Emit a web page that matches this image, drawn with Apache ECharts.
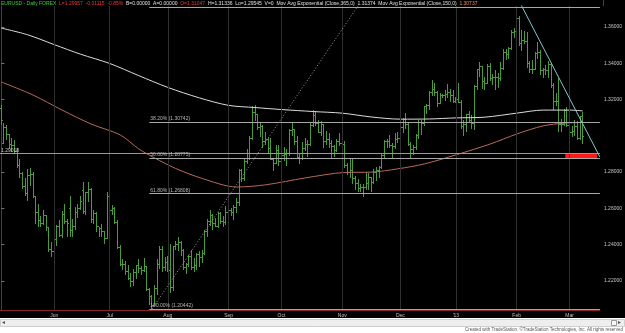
<!DOCTYPE html>
<html><head><meta charset="utf-8">
<script src="https://cdn.jsdelivr.net/npm/echarts@6/dist/echarts.min.js"></script>
<style>html,body{margin:0;padding:0;background:#000;}#c{width:625px;height:333px;}</style>
</head><body><div id="c"></div>
<script>
// ---- data ----
// one bar per weekday, index 0 = 4 May 2012 ... index 220 = 8 Mar 2013 ; [open, high, low, close]
const bars = [
[1.3150,1.3172,1.3060,1.3085],[1.2960,1.3070,1.2955,1.3045],[1.3045,1.3060,1.2975,1.3005],[1.3005,1.3010,1.2925,1.2950],
[1.2950,1.2990,1.2910,1.2945],[1.2945,1.2975,1.2900,1.2915],[1.2915,1.2935,1.2820,1.2835],[1.2835,1.2875,1.2765,1.2790],
[1.2790,1.2800,1.2705,1.2720],[1.2720,1.2770,1.2670,1.2680],[1.2680,1.2815,1.2640,1.2780],[1.2780,1.2825,1.2725,1.2785],
[1.2785,1.2800,1.2655,1.2665],[1.2665,1.2670,1.2515,1.2580],[1.2580,1.2625,1.2500,1.2535],[1.2535,1.2560,1.2495,1.2515],
[1.2515,1.2590,1.2510,1.2560],[1.2560,1.2565,1.2475,1.2495],[1.2495,1.2500,1.2360,1.2375],[1.2375,1.2415,1.2330,1.2365],
[1.2365,1.2440,1.2288,1.2430],[1.2430,1.2510,1.2395,1.2500],[1.2500,1.2535,1.2440,1.2450],[1.2450,1.2585,1.2435,1.2565],
[1.2565,1.2625,1.2515,1.2530],[1.2530,1.2540,1.2440,1.2515],[1.2600,1.2670,1.2440,1.2480],[1.2480,1.2540,1.2445,1.2500],
[1.2500,1.2605,1.2480,1.2580],[1.2580,1.2625,1.2545,1.2600],[1.2600,1.2670,1.2590,1.2640],[1.2700,1.2747,1.2570,1.2585],
[1.2585,1.2690,1.2565,1.2685],[1.2685,1.2745,1.2635,1.2705],[1.2705,1.2715,1.2520,1.2540],[1.2540,1.2590,1.2515,1.2570],
[1.2570,1.2580,1.2470,1.2500],[1.2500,1.2500,1.2440,1.2490],[1.2490,1.2515,1.2440,1.2470],[1.2470,1.2475,1.2405,1.2435],
[1.2435,1.2692,1.2430,1.2665],
[1.2665,1.2690,1.2580,1.2590],[1.2590,1.2620,1.2565,1.2600],[1.2600,1.2605,1.2515,1.2525],[1.2525,1.2535,1.2375,1.2385],
[1.2385,1.2400,1.2280,1.2290],[1.2290,1.2320,1.2260,1.2290],[1.2290,1.2310,1.2235,1.2250],[1.2250,1.2290,1.2205,1.2215],
[1.2215,1.2245,1.2165,1.2195],[1.2195,1.2265,1.2170,1.2245],[1.2245,1.2290,1.2210,1.2285],[1.2285,1.2320,1.2245,1.2270],
[1.2270,1.2285,1.2235,1.2260],[1.2260,1.2325,1.2250,1.2280],[1.2280,1.2285,1.2145,1.2155],[1.2155,1.2160,1.2067,1.2115],
[1.2115,1.2125,1.2042,1.2065],[1.2065,1.2175,1.2060,1.2160],[1.2160,1.2320,1.2125,1.2290],[1.2290,1.2390,1.2265,1.2375],
[1.2375,1.2390,1.2250,1.2275],[1.2275,1.2330,1.2255,1.2300],
[1.2300,1.2340,1.2250,1.2260],[1.2260,1.2405,1.2135,1.2165],[1.2165,1.2395,1.2145,1.2390],[1.2390,1.2420,1.2370,1.2400],
[1.2400,1.2445,1.2365,1.2410],[1.2410,1.2420,1.2340,1.2370],[1.2370,1.2375,1.2260,1.2275],[1.2275,1.2300,1.2240,1.2290],
[1.2290,1.2345,1.2275,1.2335],[1.2335,1.2370,1.2260,1.2275],[1.2275,1.2325,1.2250,1.2285],[1.2285,1.2355,1.2260,1.2345],
[1.2345,1.2365,1.2275,1.2330],[1.2330,1.2370,1.2300,1.2350],[1.2350,1.2480,1.2345,1.2470],[1.2470,1.2540,1.2440,1.2530],
[1.2530,1.2590,1.2505,1.2560],[1.2560,1.2570,1.2480,1.2515],[1.2515,1.2545,1.2495,1.2500],[1.2500,1.2580,1.2490,1.2570],
[1.2570,1.2580,1.2515,1.2530],[1.2530,1.2560,1.2495,1.2520],[1.2520,1.2615,1.2510,1.2580],
[1.2580,1.2625,1.2570,1.2590],[1.2590,1.2600,1.2560,1.2575],[1.2575,1.2620,1.2535,1.2605],[1.2605,1.2660,1.2575,1.2630],
[1.2630,1.2815,1.2615,1.2810],[1.2810,1.2815,1.2745,1.2765],[1.2765,1.2870,1.2750,1.2860],[1.2860,1.2930,1.2845,1.2905],
[1.2905,1.3000,1.2865,1.2985],[1.2985,1.3165,1.2975,1.3130],[1.3130,1.3172,1.3080,1.3115],[1.3115,1.3120,1.3030,1.3045],
[1.3045,1.3075,1.2995,1.3050],[1.3050,1.3060,1.2935,1.2970],[1.2970,1.3020,1.2950,1.2980],[1.2980,1.2990,1.2900,1.2930],
[1.2930,1.2990,1.2865,1.2870],[1.2870,1.2880,1.2805,1.2850],[1.2850,1.2950,1.2845,1.2920],[1.2920,1.2950,1.2835,1.2860],
[1.2860,1.2935,1.2855,1.2890],[1.2890,1.2940,1.2860,1.2895],[1.2895,1.2925,1.2835,1.2900],[1.2900,1.3040,1.2890,1.3030],
[1.3030,1.3075,1.3000,1.3035],[1.3035,1.3040,1.2950,1.2970],[1.2970,1.3000,1.2875,1.2880],[1.2880,1.2905,1.2845,1.2875],
[1.2875,1.2965,1.2865,1.2930],[1.2930,1.2990,1.2915,1.2950],[1.2950,1.2975,1.2885,1.2955],[1.2955,1.3075,1.2945,1.3055],
[1.3055,1.3140,1.3050,1.3110],[1.3110,1.3135,1.3055,1.3070],[1.3070,1.3085,1.3015,1.3020],[1.3020,1.3080,1.3000,1.3060],
[1.3060,1.3065,1.2935,1.2970],[1.2970,1.3025,1.2950,1.2980],[1.2980,1.3015,1.2935,1.2960],[1.2960,1.2975,1.2880,1.2940],
[1.2940,1.2950,1.2885,1.2920],[1.2920,1.2985,1.2910,1.2970],[1.2970,1.3015,1.2945,1.2960],
[1.2960,1.2990,1.2925,1.2950],[1.2950,1.2970,1.2825,1.2835],[1.2835,1.2850,1.2785,1.2800],[1.2800,1.2875,1.2770,1.2810],
[1.2810,1.2880,1.2735,1.2765],[1.2765,1.2780,1.2700,1.2740],[1.2740,1.2760,1.2690,1.2710],[1.2710,1.2735,1.2690,1.2715],
[1.2715,1.2735,1.2662,1.2715],[1.2715,1.2800,1.2700,1.2740],[1.2740,1.2795,1.2700,1.2770],[1.2770,1.2775,1.2690,1.2745],
[1.2745,1.2815,1.2735,1.2800],[1.2800,1.2830,1.2750,1.2810],[1.2810,1.2835,1.2765,1.2825],[1.2825,1.2905,1.2815,1.2890],
[1.2890,1.2975,1.2880,1.2970],[1.2970,1.2985,1.2935,1.2970],[1.2970,1.3005,1.2935,1.2945],[1.2945,1.2960,1.2875,1.2940],
[1.2940,1.3015,1.2930,1.2980],[1.2980,1.3020,1.2960,1.2985],
[1.2985,1.3055,1.2975,1.3045],[1.3045,1.3100,1.3015,1.3090],[1.3090,1.3125,1.3040,1.3065],[1.3065,1.3075,1.2945,1.2950],
[1.2950,1.2965,1.2875,1.2925],[1.2925,1.2950,1.2895,1.2935],[1.2935,1.3010,1.2920,1.3000],[1.3000,1.3085,1.2985,1.3075],
[1.3075,1.3085,1.3005,1.3070],[1.3070,1.3165,1.3055,1.3160],[1.3160,1.3175,1.3120,1.3165],[1.3165,1.3245,1.3140,1.3240],
[1.3240,1.3308,1.3220,1.3255],[1.3255,1.3290,1.3220,1.3240],[1.3240,1.3245,1.3160,1.3180],[1.3180,1.3235,1.3175,1.3220],
[1.3220,1.3230,1.3210,1.3220],[1.3220,1.3255,1.3190,1.3230],[1.3230,1.3285,1.3210,1.3240],[1.3240,1.3260,1.3185,1.3220],
[1.3220,1.3255,1.3180,1.3190],
[1.3190,1.3215,1.3180,1.3200],[1.3200,1.3292,1.3180,1.3185],[1.3185,1.3195,1.3035,1.3050],[1.3050,1.3085,1.2998,1.3065],
[1.3065,1.3120,1.3020,1.3115],[1.3115,1.3135,1.3070,1.3085],[1.3085,1.3115,1.3035,1.3070],[1.3070,1.3280,1.3030,1.3270],
[1.3270,1.3370,1.3255,1.3365],[1.3365,1.3405,1.3325,1.3385],[1.3385,1.3385,1.3260,1.3300],[1.3300,1.3325,1.3255,1.3290],
[1.3290,1.3395,1.3285,1.3385],[1.3385,1.3400,1.3300,1.3315],[1.3315,1.3340,1.3280,1.3320],[1.3320,1.3365,1.3255,1.3320],
[1.3320,1.3345,1.3265,1.3315],[1.3315,1.3405,1.3300,1.3370],[1.3370,1.3480,1.3365,1.3460],[1.3460,1.3480,1.3420,1.3450],
[1.3450,1.3490,1.3425,1.3480],[1.3480,1.3585,1.3475,1.3570],[1.3570,1.3595,1.3540,1.3575],
[1.3575,1.3711,1.3565,1.3645],[1.3645,1.3660,1.3495,1.3510],[1.3510,1.3585,1.3465,1.3525],[1.3525,1.3580,1.3505,1.3520],
[1.3520,1.3575,1.3375,1.3400],[1.3400,1.3415,1.3345,1.3365],[1.3365,1.3420,1.3340,1.3365],[1.3365,1.3460,1.3365,1.3455],
[1.3455,1.3520,1.3425,1.3460],[1.3460,1.3475,1.3335,1.3360],[1.3360,1.3375,1.3320,1.3365],[1.3365,1.3390,1.3335,1.3360],
[1.3360,1.3410,1.3320,1.3395],[1.3395,1.3395,1.3265,1.3280],[1.3280,1.3290,1.3145,1.3190],[1.3190,1.3235,1.3165,1.3190],
[1.3190,1.3320,1.3020,1.3065],[1.3065,1.3095,1.3020,1.3060],[1.3060,1.3150,1.3055,1.3140],[1.3140,1.3160,1.3050,1.3055],
[1.3055,1.3070,1.2966,1.3020],[1.3020,1.3055,1.2995,1.3025],[1.3025,1.3085,1.3000,1.3050],[1.3050,1.3080,1.2975,1.2985],
[1.2985,1.3110,1.2975,1.31072],[1.31047,1.31336,1.29545,1.29957]
];
const monthIdx    = [20, 41, 63, 86, 106, 129, 151, 172, 195, 215];
const monthLabels = ['Jun','Jul','Aug','Sep','Oct','Nov','Dec',"'13",'Feb','Mar'];
const yTickValues = [1.22, 1.24, 1.26, 1.28, 1.32, 1.34, 1.36];
// Mov Avg Exponential (Close,365,0) - white
const ema365 = [[0,1.3594],[10,1.3557],[20,1.3503],[30,1.3450],[41,1.3399],[52,1.3332],[63,1.3267],[75,1.3209],
  [86,1.3168],[96,1.3156],[106,1.3145],[118,1.3134],[129,1.3125],[140,1.3104],[151,1.3092],[162,1.3093],
  [172,1.3099],[183,1.3103],[195,1.3125],[205,1.3142],[215,1.3142],[220,1.31374]];
// Mov Avg Exponential (Close,150,0) - brown
const ema150 = [[0,1.3297],[12,1.3225],[23,1.3142],[34,1.3065],[45,1.3005],[52,1.2928],[58,1.2878],[66,1.2820],
  [76,1.2765],[89,1.2718],[100,1.2730],[115,1.2768],[130,1.2798],[140,1.2800],[150,1.2818],[160,1.2845],
  [172,1.2895],[185,1.2955],[195,1.3010],[205,1.3055],[213,1.3070],[220,1.30737]];
const fibPct = ['0.00%','38.20%','50.00%','61.80%','100.00%'];
const fibVal = [1.37108, 1.30742, 1.28775, 1.26808, 1.20442];
const fibStart = 56;
const hLinePrice = 1.29018;
const trendDotted = [[57,1.20442],[137,1.3760]];
const trendTeal = [[196,1.3741],[226.5,1.2883]];
const redZone = [[213.4,1.29018],[225.4,1.28775]];

// ---- drawing ----
const FONT = 'Arial, "Liberation Sans", sans-serif';
const BAR_COLOR = '#4c9a3c';
const AXIS_RED = '#8a2525';
const X_MIN = -0.5, X_MAX = 226.5;
const Y_MIN = 1.20399, Y_MAX = 1.37158;

const last = bars[bars.length-1], prev = bars[bars.length-2];
const chg = last[3]-prev[3];
const f5 = v => v.toFixed(5);
const headerText =
  '{g|EURUSD - Daily FOREX}  {r|L=' + f5(last[3]) + '  ' + f5(chg) + '  ' + (chg/prev[3]*100).toFixed(2) + '%}  ' +
  '{w|B=0.00000  A=0.00000}  {r|O=' + f5(last[0]) + '}  {w|H=' + f5(last[1]) + '  Lo=' + f5(last[2]) + '  V=0  ' +
  'Mov Avg Exponential (Close,365,0)  ' + f5(ema365[ema365.length-1][1]) + '  Mov Avg Exponential (Close,150,0)}  ' +
  '{o|' + f5(ema150[ema150.length-1][1]) + '}';

function boxLabel(val, bg, fg){
  return {yAxis: val, label:{show:true, position:'end', distance:1, formatter: f5(val),
    backgroundColor:bg, color:fg, fontSize:5, fontFamily:FONT, padding:[1,2,1,2], lineHeight:6}};
}

const fibLines = fibVal.map((v,k)=>[
  {coord:[fibStart, v], label:{show: k>0, position:'insideStartTop', distance:1,
     formatter: fibPct[k] + ' (' + f5(v) + ')', color:'#b8b8b8', fontSize:5, fontFamily:FONT}},
  {coord:[X_MAX, v]}
]);

const option = {
  backgroundColor:'#000',
  animation:false,
  grid:{left:0, right:22, top:6, bottom:23, containLabel:false},
  xAxis:{type:'value', min:X_MIN, max:X_MAX,
    axisLine:{show:true, onZero:false, lineStyle:{color:AXIS_RED, width:1}},
    axisTick:{show:false}, splitLine:{show:false},
    axisLabel:{color:'#c0c0c0', fontSize:5, fontFamily:FONT, margin:3, customValues:monthIdx,
      formatter: v => { const k = monthIdx.indexOf(Math.round(v)); return k>=0 ? monthLabels[k] : ''; }}},
  yAxis:{type:'value', position:'right', min:Y_MIN, max:Y_MAX,
    axisLine:{show:true, lineStyle:{color:AXIS_RED, width:1}},
    axisTick:{show:true, length:3, customValues:yTickValues, lineStyle:{color:'#777'}},
    splitLine:{show:false},
    axisLabel:{color:'#c8c8c8', fontSize:5, fontFamily:FONT, margin:4, customValues:yTickValues,
      formatter: v => v.toFixed(5)}},
  series:[
    { // month grid lines
      type:'line', z:1, silent:true, showSymbol:false, data:[[X_MIN-5, 1.3]],
      markLine:{silent:true, symbol:'none', label:{show:false},
        lineStyle:{color:'#303030', type:'solid', width:1},
        data: monthIdx.map(i=>({xAxis:i}))}
    },
    { // fib + horizontal line + red zone
      type:'line', z:3, silent:true, showSymbol:false, data:[[X_MIN-5, 1.3]],
      markLine:{silent:true, symbol:'none', lineStyle:{color:'#a8a8a8', type:'solid', width:1},
        data: fibLines.concat([[
          {coord:[X_MIN, hLinePrice], label:{show:true, position:'insideStartTop', distance:1,
            formatter:f5(hLinePrice), color:'#c8c8c8', fontSize:5, fontFamily:FONT}, lineStyle:{color:'#999'}},
          {coord:[X_MAX, hLinePrice]}
        ]])},
      markArea:{silent:true, itemStyle:{color:'#ff1a1a'},
        data:[[{coord:redZone[0]},{coord:redZone[1]}]]}
    },
    { // OHLC bars
      type:'custom', z:2, clip:true,
      data: bars.map((b,i)=>[i,b[0],b[1],b[2],b[3]]),
      encode:{x:0, y:[1,2,3,4]},
      renderItem:(params, api)=>{
        const i = api.value(0);
        const pO = api.coord([i, api.value(1)]), pH = api.coord([i, api.value(2)]);
        const pL = api.coord([i, api.value(3)]), pC = api.coord([i, api.value(4)]);
        const cx = Math.round(pH[0]-0.5);
        const st = {stroke:BAR_COLOR, lineWidth:1, fill:null};
        const yH = Math.round(pH[1]), yL = Math.round(pL[1]);
        const yO = Math.round(pO[1]-0.5)+0.5, yC = Math.round(pC[1]-0.5)+0.5;
        return {type:'group', children:[
          {type:'line', shape:{x1:cx+0.5, y1:yH, x2:cx+0.5, y2:Math.max(yL, yH+1)}, style:st},
          {type:'line', shape:{x1:cx-1, y1:yO, x2:cx, y2:yO}, style:st},
          {type:'line', shape:{x1:cx+1, y1:yC, x2:cx+2, y2:yC}, style:st}
        ]};
      }
    },
    { // last price box
      type:'line', z:6, silent:true, showSymbol:false, data:[[X_MIN-5, 1.3]],
      markLine:{silent:true, symbol:'none', lineStyle:{opacity:0},
        data:[boxLabel(last[3], '#22e022', '#000')]}
    },
    {
      type:'line', z:4, name:'ema365', data:ema365, showSymbol:false, smooth:0.3, silent:true,
      lineStyle:{color:'#dcdcdc', width:1},
      markLine:{silent:true, symbol:'none', lineStyle:{opacity:0},
        data:[boxLabel(ema365[ema365.length-1][1], '#ffffff', '#000')]}
    },
    {
      type:'line', z:4, name:'ema150', data:ema150, showSymbol:false, smooth:0.3, silent:true,
      lineStyle:{color:'#b86a58', width:1},
      markLine:{silent:true, symbol:'none', lineStyle:{opacity:0},
        data:[boxLabel(ema150[ema150.length-1][1], '#f2906a', '#000')]}
    },
    {
      type:'line', z:5, data:trendDotted, showSymbol:false, silent:true, clip:true,
      lineStyle:{color:'#9a9a9a', width:1, type:[1,2]}
    },
    {
      type:'line', z:5, data:trendTeal, showSymbol:false, silent:true, clip:true,
      lineStyle:{color:'#7cc8c8', width:1}
    }
  ],
  graphic:[
    {type:'text', left:1, top:1, z:10, style:{text:headerText, fontSize:5, fontFamily:FONT, fill:'#e0e0e0',
      rich:{g:{fill:'#3fcf3f', color:'#3fcf3f', fontSize:5, fontFamily:FONT},
            r:{fill:'#e23a3a', color:'#e23a3a', fontSize:5, fontFamily:FONT},
            w:{fill:'#e0e0e0', color:'#e0e0e0', fontSize:5, fontFamily:FONT},
            o:{fill:'#f08a60', color:'#f08a60', fontSize:5, fontFamily:FONT}}}},
    {type:'line', z:10, shape:{x1:603.5, y1:0, x2:603.5, y2:6}, style:{stroke:AXIS_RED, lineWidth:1}},
    {type:'rect', z:10, shape:{x:0, y:318, width:625, height:15}, style:{fill:'#ffffff'}},
    {type:'rect', z:11, shape:{x:0.5, y:319.5, width:624, height:7}, style:{fill:'#eeeeee', stroke:'#cfcfcf', lineWidth:1}},
    {type:'text', z:12, left:2, top:319, style:{text:'\u25C2', fontSize:6, fill:'#555', fontFamily:FONT}},
    {type:'rect', z:12, shape:{x:611.5, y:320.5, width:5, height:5}, style:{fill:'#f8f8f8', stroke:'#999', lineWidth:1}},
    {type:'text', z:12, left:618, top:319, style:{text:'\u25B8', fontSize:6, fill:'#555', fontFamily:FONT}},
    {type:'text', z:12, right:2, top:327, style:{text:'Created with TradeStation. \u00A9TradeStation Technologies, Inc. All rights reserved',
      fontSize:4.5, fill:'#555', fontFamily:FONT}}
  ]
};
const chart = echarts.init(document.getElementById('c'), null, {renderer:'canvas'});
chart.setOption(option);
</script>
</body></html>
